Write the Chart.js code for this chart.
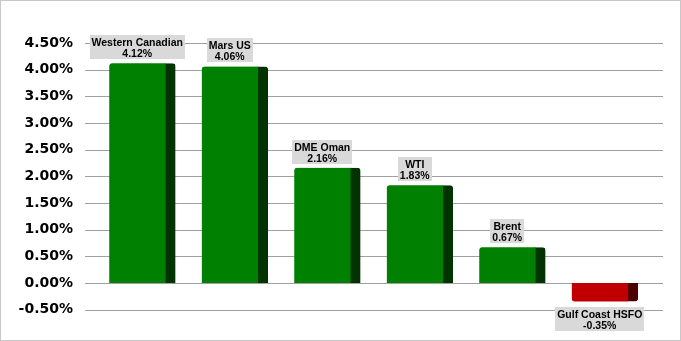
<!DOCTYPE html>
<html>
<head>
<meta charset="utf-8">
<script src="https://cdn.jsdelivr.net/npm/chart.js@4"></script>
<style>
html,body{margin:0;padding:0;background:#fff;}
#wrap{position:relative;width:681px;height:341px;}
</style>
</head>
<body>
<div id="wrap"><canvas id="c" width="681" height="341"></canvas></div>
<script>
const categories = ['Western Canadian', 'Mars US', 'DME Oman', 'WTI', 'Brent', 'Gulf Coast HSFO'];
const values = [4.12, 4.06, 2.16, 1.83, 0.67, -0.35];
const frontColors = ['#008000', '#008000', '#008000', '#008000', '#008000', '#c00000'];
const sideColors = ['#003300', '#003300', '#003300', '#003300', '#003300', '#4d0000'];
const yMin = -0.5, yMax = 4.5, yStep = 0.5;

const gridPlugin = {
  id: 'extGrid',
  beforeDatasetsDraw(chart) {
    const ctx = chart.ctx, y = chart.scales.y, a = chart.chartArea;
    ctx.save();
    ctx.strokeStyle = '#a0a0a0';
    ctx.lineWidth = 1;
    for (let v = yMin; v <= yMax + 1e-9; v += yStep) {
      const py = Math.round(y.getPixelForValue(v)) + 0.5;
      ctx.beginPath();
      ctx.moveTo(a.left - 11, py);
      ctx.lineTo(a.right + 12, py);
      ctx.stroke();
    }
    ctx.restore();
  },
  afterDraw(chart) {
    const ctx = chart.ctx;
    ctx.save();
    ctx.strokeStyle = '#c8c8c8';
    ctx.lineWidth = 1;
    ctx.strokeRect(0.5, 0.5, chart.width - 1, chart.height - 1);
    ctx.restore();
  }
};

const labelPlugin = {
  id: 'boxLabels',
  afterDatasetsDraw(chart) {
    const ctx = chart.ctx;
    const meta = chart.getDatasetMeta(0);
    ctx.save();
    ctx.font = 'bold 10.5px "Liberation Sans", Arial, sans-serif';
    ctx.textAlign = 'center';
    ctx.textBaseline = 'alphabetic';
    meta.data.forEach((bar, i) => {
      const name = categories[i];
      const val = values[i].toFixed(2) + '%';
      const w = Math.max(ctx.measureText(name).width, ctx.measureText(val).width) + 4;
      const h = 24;
      const cx = bar.x - 5;
      let top;
      if (values[i] >= 0) {
        top = bar.y - 4 - h;
      } else {
        top = bar.y + 5;
      }
      ctx.fillStyle = '#d9d9d9';
      ctx.fillRect(Math.round(cx - w / 2), Math.round(top), Math.round(w), h);
      ctx.fillStyle = '#000';
      ctx.fillText(name, cx, top + 11);
      ctx.fillText(val, cx, top + 22);
    });
    ctx.restore();
  }
};

new Chart(document.getElementById('c'), {
  type: 'bar',
  data: {
    labels: categories,
    datasets: [{
      data: values,
      backgroundColor: frontColors,
      borderColor: sideColors,
      borderWidth: {top: 0, right: 10, bottom: 0, left: 0},
      borderRadius: 3,
      borderSkipped: 'start',
      barThickness: 66
    }]
  },
  options: {
    responsive: false,
    animation: false,
    devicePixelRatio: 1,
    layout: {padding: {top: 43, bottom: 30, right: 30, left: 0}},
    plugins: {legend: {display: false}, tooltip: {enabled: false}},
    scales: {
      x: {display: false},
      y: {
        min: yMin,
        max: yMax,
        afterFit(scale) { scale.width = 96; },
        border: {display: false},
        grid: {display: false, drawTicks: false},
        ticks: {
          stepSize: yStep,
          padding: 23,
          color: '#000',
          font: {family: '"DejaVu Sans", sans-serif', size: 14, weight: 'bold'},
          callback: (v) => v.toFixed(2) + '%'
        }
      }
    }
  },
  plugins: [gridPlugin, labelPlugin]
});
</script>
</body>
</html>
